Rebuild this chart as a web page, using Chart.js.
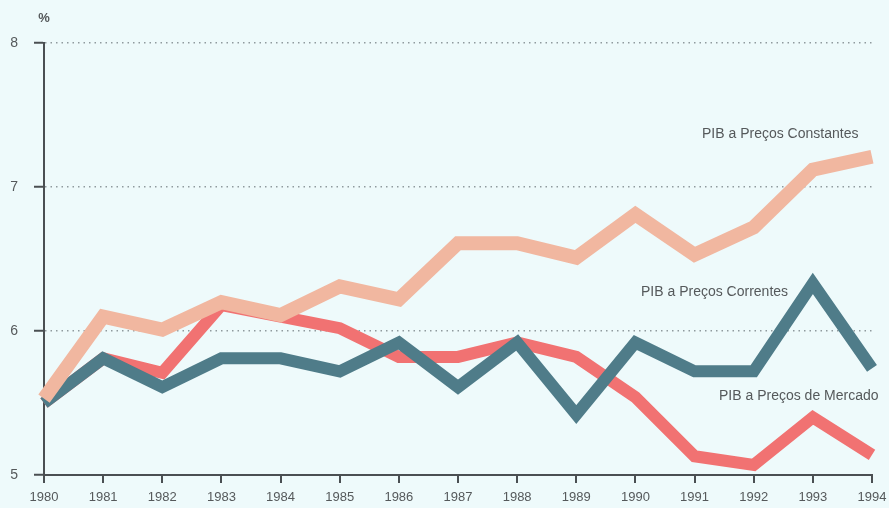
<!DOCTYPE html>
<html>
<head>
<meta charset="utf-8">
<script src="https://cdn.jsdelivr.net/npm/chart.js@4/dist/chart.umd.min.js"></script>
<style>
  html, body { margin: 0; padding: 0; background: #eefafb; }
  #wrap { width: 889px; height: 508px; }
</style>
</head>
<body>
<div id="wrap"><canvas id="c" width="889" height="508"></canvas></div>
<script>
// Growth rates of GDP, 1980-1994 (%)
const years = ['1980','1981','1982','1983','1984','1985','1986','1987','1988','1989','1990','1991','1992','1993','1994'];
const precosConstantes = [5.53, 6.10, 6.01, 6.20, 6.11, 6.31, 6.22, 6.61, 6.61, 6.51, 6.81, 6.53, 6.72, 7.12, 7.21];
const precosCorrentes  = [5.50, 5.81, 5.61, 5.81, 5.81, 5.72, 5.92, 5.61, 5.92, 5.42, 5.92, 5.72, 5.72, 6.33, 5.74];
const precosMercado    = [5.50, 5.81, 5.71, 6.18, 6.10, 6.02, 5.82, 5.82, 5.92, 5.82, 5.54, 5.13, 5.07, 5.40, 5.14];
const yTicks = [5, 6, 7, 8];
const seriesNames = ['PIB a Preços Constantes', 'PIB a Preços Correntes', 'PIB a Preços de Mercado'];

const FONT = "'Liberation Sans', Arial, sans-serif";
const TEXT = '#55595b';
const AXIS = '#4a4f52';

// background, unit label and series captions
const decor = {
  id: 'decor',
  beforeDraw(chart) {
    const ctx = chart.ctx;
    ctx.save();
    ctx.fillStyle = '#eefafb';
    ctx.fillRect(0, 0, chart.width, chart.height);
    ctx.restore();
  },
  afterDraw(chart) {
    const ctx = chart.ctx;
    ctx.save();
    ctx.fillStyle = TEXT;
    ctx.font = "bold 13px " + FONT;
    ctx.textAlign = 'center';
    ctx.textBaseline = 'middle';
    ctx.fillText('%', 44, 18);
    ctx.font = "14px " + FONT;
    ctx.textAlign = 'left';
    ctx.fillText(seriesNames[0], 702, 134);
    ctx.fillText(seriesNames[1], 641, 292);
    ctx.fillText(seriesNames[2], 719, 396);
    ctx.restore();
  }
};

new Chart(document.getElementById('c'), {
  type: 'line',
  data: {
    labels: years,
    datasets: [
      { label: seriesNames[0], data: precosConstantes, borderColor: '#f1b7a0', borderWidth: 14, order: 0 },
      { label: seriesNames[1], data: precosCorrentes,  borderColor: '#4f7c89', borderWidth: 12, order: 1 },
      { label: seriesNames[2], data: precosMercado,    borderColor: '#f17272', borderWidth: 12, order: 2 }
    ].map(d => Object.assign(d, {
      fill: false, tension: 0, pointRadius: 0, pointHoverRadius: 0,
      borderJoinStyle: 'miter', borderCapStyle: 'butt'
    }))
  },
  options: {
    responsive: false,
    animation: false,
    events: [],
    layout: { padding: { left: 0, right: 17, top: 43, bottom: 0 } },
    plugins: { legend: { display: false }, tooltip: { enabled: false } },
    scales: {
      x: {
        type: 'category',
        offset: false,
        afterFit(s) { s.height = 33; s.paddingLeft = 0; s.paddingRight = 0; },
        grid: { drawOnChartArea: false, drawTicks: true, tickLength: 8, color: AXIS, lineWidth: 2 },
        border: { display: true, color: AXIS, width: 2 },
        ticks: { color: TEXT, font: { family: FONT, size: 13 }, padding: 7, maxRotation: 0, autoSkip: false }
      },
      y: {
        min: 5, max: 8,
        afterFit(s) { s.width = 44; },
        afterBuildTicks(s) { s.ticks = yTicks.map(v => ({ value: v })); },
        grid: {
          drawOnChartArea: true, drawTicks: true, tickLength: 10,
          color: '#8f9a9e', lineWidth: 1.5,
          tickColor: AXIS, tickWidth: 2
        },
        border: { display: true, color: AXIS, width: 2, dash: [1.5, 4] },
        ticks: { color: TEXT, font: { family: FONT, size: 14 }, padding: 16 }
      }
    }
  },
  plugins: [decor]
});
</script>
</body>
</html>
